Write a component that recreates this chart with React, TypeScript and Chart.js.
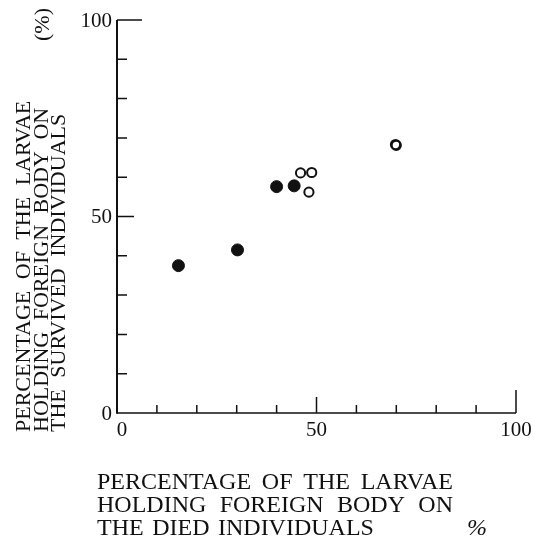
import React, { useEffect, useRef } from "react";
import { Chart, registerables } from "chart.js";

Chart.register(...registerables);

// Filled circles
const filledDied = [15.4, 30.2, 40.0, 44.4];
const filledSurvived = [37.5, 41.5, 57.6, 57.8];

// Open circles (two nearly coincide near 70 / 68)
const openDied = [46.0, 48.8, 48.1, 69.8, 70.0];
const openSurvived = [61.1, 61.2, 56.2, 68.3, 68.1];

// Axis ticks (every 10) and the labelled ones
const axisTicks = [0, 10, 20, 30, 40, 50, 60, 70, 80, 90, 100];
const labeledTicks = [0, 50, 100];

const xTitleLines = [
  ["PERCENTAGE", "OF", "THE", "LARVAE"],
  ["HOLDING", "FOREIGN", "BODY", "ON"],
  ["THE", "DIED", "INDIVIDUALS"],
];
const xUnit = "%";

const yTitleLines = [
  ["PERCENTAGE", "OF", "THE", "LARVAE"],
  ["HOLDING", "FOREIGN", "BODY", "ON"],
  ["THE", "SURVIVED", "INDIVIDUALS"],
];
const yUnit = "(%)";

const INK = "#111";
const SERIF = '"Liberation Serif", "Times New Roman", serif';

function toPoints(xs: number[], ys: number[]) {
  return xs.map((v, i) => ({ x: v, y: ys[i] }));
}

function wordsWidth(ctx: CanvasRenderingContext2D, words: string[]) {
  return words.reduce((s, w) => s + ctx.measureText(w).width, 0);
}

function drawWords(
  ctx: CanvasRenderingContext2D,
  words: string[],
  x: number,
  y: number,
  gap: number
) {
  let cx = x;
  for (const w of words) {
    ctx.fillText(w, cx, y);
    cx += ctx.measureText(w).width + gap;
  }
}

function tickLength(v: number, axis: "x" | "y") {
  if (v === 100) return axis === "x" ? 23 : 25;
  if (v === 50) return axis === "x" ? 16 : 17;
  return axis === "x" ? 8 : 10;
}

const paperAxes = {
  id: "paperAxes",
  beforeDatasetsDraw(chart: any) {
    const { ctx } = chart;
    const xs = chart.scales.x;
    const ys = chart.scales.y;
    const x0 = xs.getPixelForValue(0);
    const x100 = xs.getPixelForValue(100);
    const y0 = ys.getPixelForValue(0);
    const y100 = ys.getPixelForValue(100);

    ctx.save();
    ctx.strokeStyle = INK;
    ctx.lineCap = "butt";

    // vertical axis
    ctx.lineWidth = 2;
    ctx.beginPath();
    ctx.moveTo(x0, y100);
    ctx.lineTo(x0, y0 + 0.75);
    ctx.stroke();

    // horizontal axis
    ctx.lineWidth = 1.5;
    ctx.beginPath();
    ctx.moveTo(x0, y0);
    ctx.lineTo(x100, y0);
    ctx.stroke();

    // inward tick marks
    ctx.lineWidth = 1.5;
    ctx.beginPath();
    for (const v of axisTicks) {
      if (v === 0) continue;
      const px = xs.getPixelForValue(v);
      ctx.moveTo(px, y0);
      ctx.lineTo(px, y0 - tickLength(v, "x"));
      const py = ys.getPixelForValue(v);
      ctx.moveTo(x0, py);
      ctx.lineTo(x0 + tickLength(v, "y"), py);
    }
    ctx.stroke();

    // tick labels
    ctx.fillStyle = INK;
    ctx.font = `21px ${SERIF}`;
    ctx.textBaseline = "middle";
    ctx.textAlign = "right";
    for (const v of labeledTicks) {
      ctx.fillText(String(v), x0 - 5, ys.getPixelForValue(v) + 1);
    }
    ctx.textAlign = "center";
    for (const v of labeledTicks) {
      ctx.fillText(String(v), xs.getPixelForValue(v) + (v === 0 ? 5 : 0), y0 + 17);
    }
    ctx.restore();
  },
  afterDraw(chart: any) {
    const { ctx } = chart;
    ctx.save();
    ctx.fillStyle = INK;
    ctx.textAlign = "left";
    ctx.textBaseline = "alphabetic";

    // horizontal-axis title, three lines under the plot
    ctx.font = `24px ${SERIF}`;
    const tx = 97;
    const baselines = [489, 512, 535];
    const fullWidth = 356;
    xTitleLines.forEach((words, i) => {
      let gap = 8.5;
      if (i < 2) gap = (fullWidth - wordsWidth(ctx, words)) / (words.length - 1);
      drawWords(ctx, words, tx, baselines[i], gap);
    });
    ctx.font = `italic 24px ${SERIF}`;
    ctx.fillText(xUnit, 467, 535);

    // vertical-axis title, rotated, reading bottom to top
    ctx.font = `22px ${SERIF}`;
    const columns = [30, 47.5, 65];
    const startY = 432;
    yTitleLines.forEach((words, i) => {
      ctx.save();
      ctx.translate(columns[i], startY);
      ctx.rotate(-Math.PI / 2);
      drawWords(ctx, words, 0, 0, 11.5);
      ctx.restore();
    });
    ctx.save();
    ctx.translate(49, 41);
    ctx.rotate(-Math.PI / 2);
    ctx.fillText(yUnit, 0, 0);
    ctx.restore();

    ctx.restore();
  },
};

export default function App() {
  const canvasRef = useRef<HTMLCanvasElement | null>(null);

  useEffect(() => {
    const canvas = canvasRef.current;
    if (!canvas) return;
    const chart = new Chart(canvas, {
      type: "scatter",
      data: {
        datasets: [
          {
            label: "filled",
            data: toPoints(filledDied, filledSurvived),
            backgroundColor: INK,
            borderColor: INK,
            borderWidth: 1,
            pointRadius: 6,
            pointHoverRadius: 6,
          },
          {
            label: "open",
            data: toPoints(openDied, openSurvived),
            backgroundColor: "rgba(255,255,255,0)",
            borderColor: INK,
            borderWidth: 2,
            pointRadius: 4.6,
            pointHoverRadius: 4.6,
          },
        ],
      },
      options: {
        responsive: false,
        animation: false,
        events: [],
        layout: { padding: { left: 117, right: 19, top: 20, bottom: 123 } },
        plugins: {
          legend: { display: false },
          tooltip: { enabled: false },
          title: { display: false },
        },
        scales: {
          x: { type: "linear", min: 0, max: 100, display: false },
          y: { type: "linear", min: 0, max: 100, display: false },
        },
        elements: { point: { hitRadius: 0 } },
      },
      plugins: [paperAxes],
    });
    return () => chart.destroy();
  }, []);

  return (
    <div
      style={{
        position: "fixed",
        left: 0,
        top: 0,
        width: 535,
        height: 536,
        background: "#fff",
      }}
    >
      <canvas ref={canvasRef} width={535} height={536} style={{ display: "block" }} />
    </div>
  );
}
